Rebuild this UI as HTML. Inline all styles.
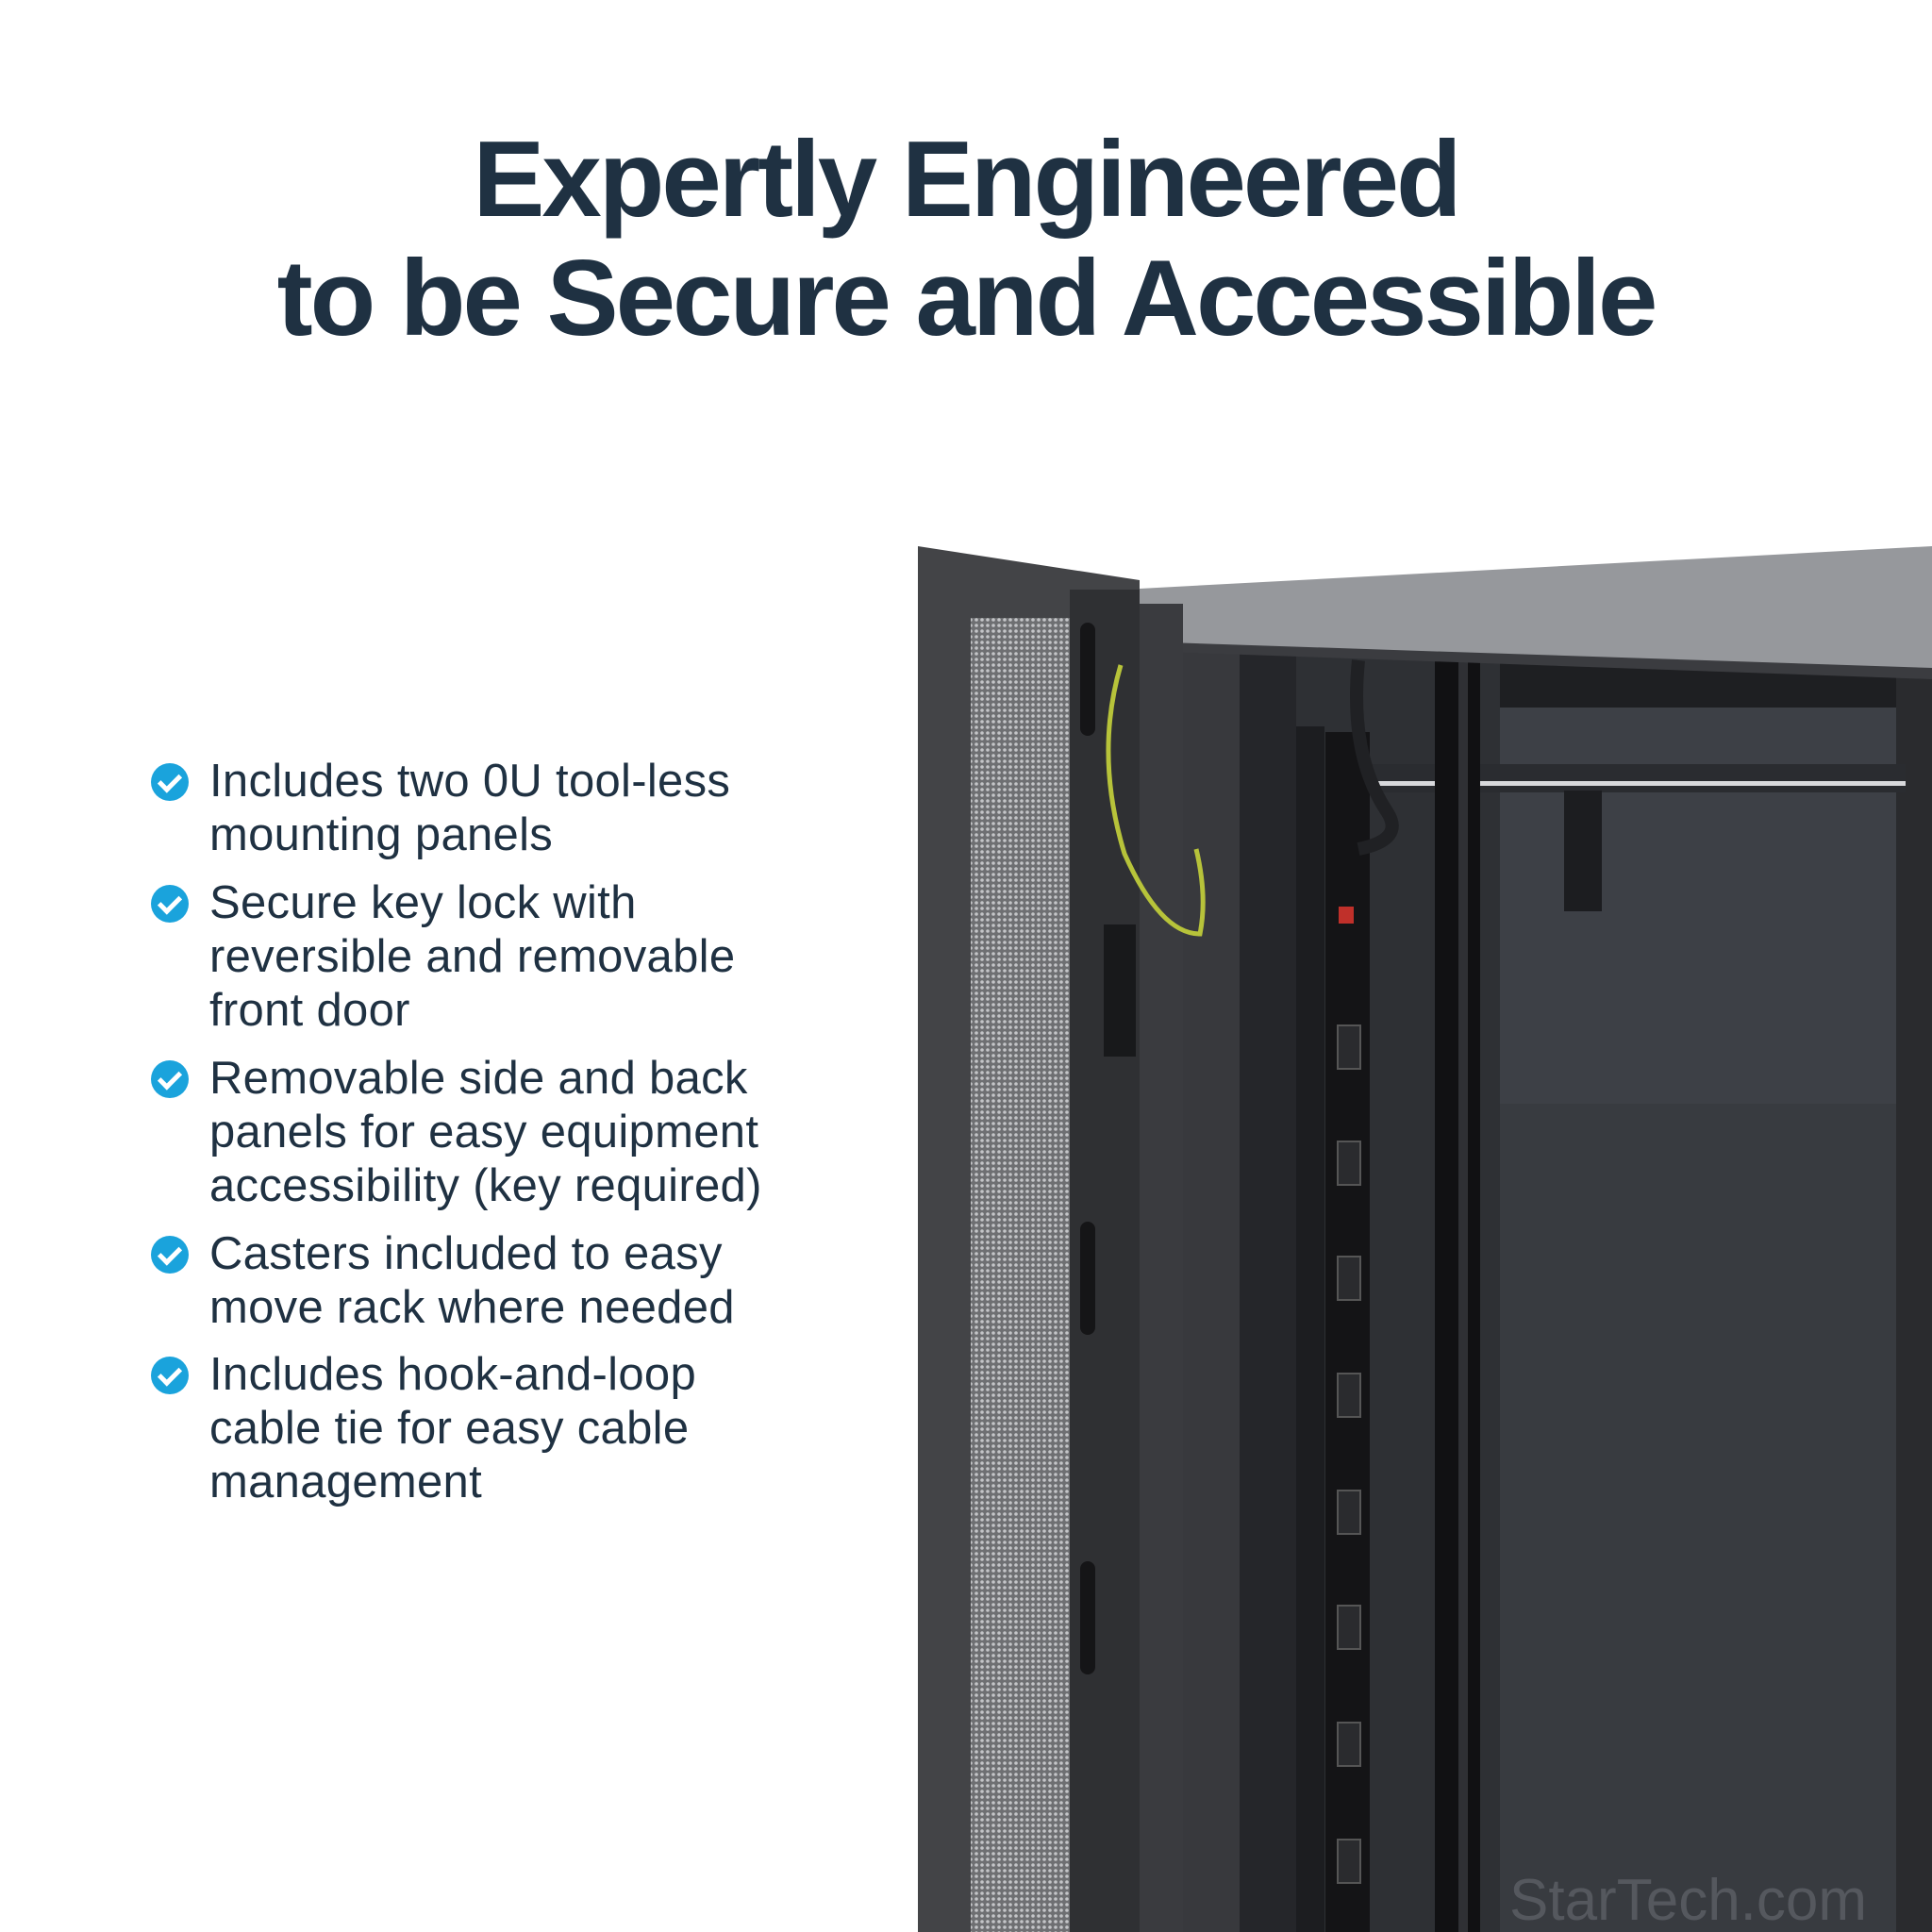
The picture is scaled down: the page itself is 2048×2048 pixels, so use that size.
<!DOCTYPE html>
<html><head><meta charset="utf-8"><style>
html,body{margin:0;padding:0;background:#fff}
#c{position:relative;width:2048px;height:2048px;overflow:hidden;background:#fff;font-family:"Liberation Sans",sans-serif}
.t{position:absolute;left:0;width:2048px;text-align:center;color:#1f3142;font-weight:bold;font-size:114px;letter-spacing:-3px;line-height:1}
.b{position:absolute;left:222px;color:#1f3142;font-size:49px;line-height:57px;letter-spacing:0.3px}
.ic{position:absolute;left:160px;width:40px;height:40px;border-radius:50%;background:#1aa3dc}
.ic:after{content:"";position:absolute;left:13px;top:7px;width:9px;height:18px;border:solid #fff;border-width:0 5px 5px 0;transform:rotate(45deg)}
</style></head><body><div id="c">
<div class="t" style="top:134px">Expertly Engineered</div>
<div class="t" style="top:260px">to be Secure and Accessible</div>

<div class="ic" style="top:809px"></div>
<div class="b" style="top:800px">Includes two 0U tool-less<br>mounting panels</div>
<div class="ic" style="top:938px"></div>
<div class="b" style="top:929px">Secure key lock with<br>reversible and removable<br>front door</div>
<div class="ic" style="top:1124px"></div>
<div class="b" style="top:1115px">Removable side and back<br>panels for easy equipment<br>accessibility (key required)</div>
<div class="ic" style="top:1310px"></div>
<div class="b" style="top:1301px">Casters included to easy<br>move rack where needed</div>
<div class="ic" style="top:1438px"></div>
<div class="b" style="top:1429px">Includes hook-and-loop<br>cable tie for easy cable<br>management</div>

<svg style="position:absolute;left:0;top:0" width="2048" height="2048" viewBox="0 0 2048 2048">
<defs><pattern id="m" width="6" height="6" patternUnits="userSpaceOnUse"><rect width="6" height="6" fill="#6e6f72"/><circle cx="3" cy="3" r="1.8" fill="#c4c5c8"/></pattern></defs>
<rect x="1208" y="660" width="840" height="1388" fill="#2e3034"/>
<rect x="1590" y="700" width="430" height="1348" fill="#3d4046"/>
<rect x="1590" y="1170" width="430" height="878" fill="#383b40"/>
<rect x="1590" y="700" width="430" height="50" fill="#1e1f22"/>
<rect x="2010" y="700" width="38" height="1348" fill="#2a2b2e"/>
<rect x="1254" y="680" width="60" height="1368" fill="#38393d"/>
<rect x="1314" y="690" width="60" height="1358" fill="#25262a"/>
<rect x="1374" y="770" width="30" height="1278" fill="#1c1d20"/>
<rect x="1440" y="810" width="580" height="30" fill="#2a2c30"/>
<rect x="1445" y="828" width="575" height="5" fill="#d8d9dc"/>
<rect x="1405" y="776" width="47" height="1272" fill="#141416"/>
<rect x="1419" y="961" width="16" height="18" fill="#c0302a"/>
<g fill="#2a2b2e" stroke="#555" stroke-width="2">
<rect x="1418" y="1087" width="24" height="46"/><rect x="1418" y="1210" width="24" height="46"/><rect x="1418" y="1332" width="24" height="46"/><rect x="1418" y="1456" width="24" height="46"/><rect x="1418" y="1580" width="24" height="46"/><rect x="1418" y="1702" width="24" height="46"/><rect x="1418" y="1826" width="24" height="46"/><rect x="1418" y="1950" width="24" height="46"/></g>
<path d="M1440 700 Q1430 800 1470 860 Q1490 890 1440 900" stroke="#202124" stroke-width="14" fill="none"/>
<rect x="1521" y="680" width="48" height="1368" fill="#111113"/>
<rect x="1546" y="700" width="10" height="1348" fill="#2f3034"/>
<rect x="1658" y="838" width="40" height="128" fill="#1c1d20"/>
<polygon points="1208,624 2048,579 2048,712 1208,684" fill="#96989c"/>
<polygon points="1208,680 2048,708 2048,720 1208,690" fill="#3b3c40"/>
<polygon points="973,579 1208,615 1208,2048 973,2048" fill="#434447"/>
<rect x="1029" y="655" width="105" height="1393" fill="url(#m)"/>
<rect x="1134" y="625" width="74" height="1423" fill="#2f3033"/>
<rect x="1145" y="660" width="16" height="120" rx="8" fill="#151517"/>
<rect x="1145" y="1295" width="16" height="120" rx="8" fill="#151517"/>
<rect x="1145" y="1655" width="16" height="120" rx="8" fill="#151517"/>
<rect x="1170" y="980" width="34" height="140" fill="#18191b"/>
<rect x="1208" y="640" width="46" height="1408" fill="#3a3b3f"/>
<path d="M1188 705 Q1160 800 1192 905 Q1230 990 1272 990 Q1280 950 1268 900" stroke="#b7c33a" stroke-width="5" fill="none"/>
<text x="1600" y="2035" font-family="Liberation Sans,sans-serif" font-size="62" fill="#55585e">StarTech.com</text>
</svg>
</div></body></html>
